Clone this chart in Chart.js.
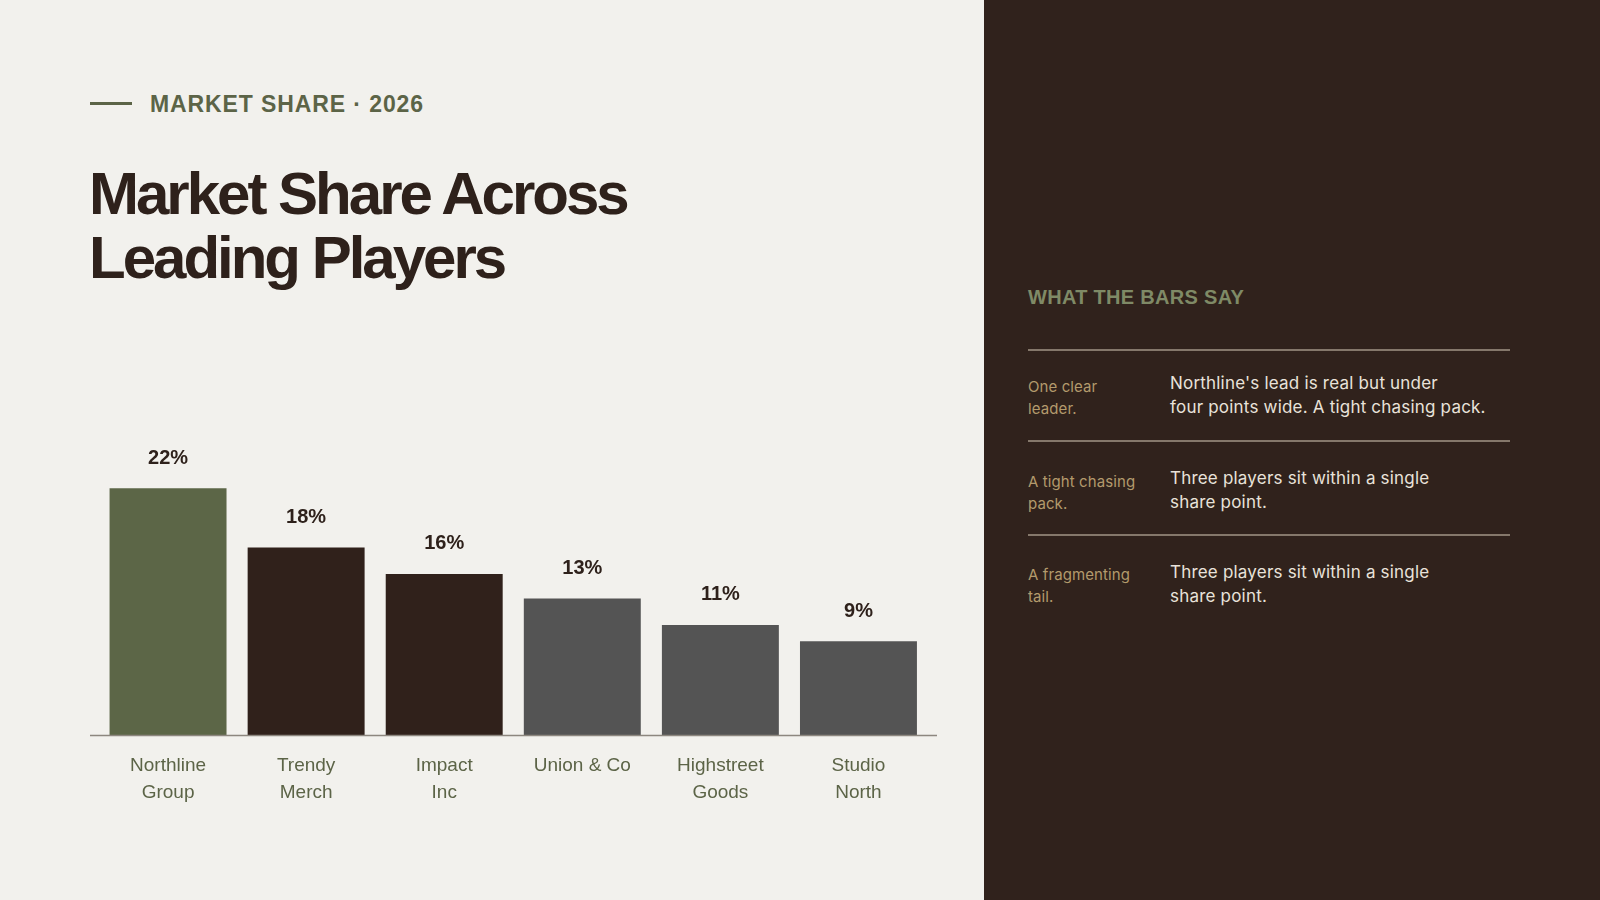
<!DOCTYPE html>
<html>
<head>
<meta charset="utf-8">
<title>Market Share Across Leading Players</title>
<script src="https://cdn.jsdelivr.net/npm/chart.js@4.4.1/dist/chart.umd.min.js"></script>
<style>
    html, body {
        margin: 0;
        padding: 0;
        width: 1600px;
        height: 900px;
        overflow: hidden;
        background: #f2f1ed;
        font-family: "Liberation Sans", Arial, sans-serif;
    }
    .eyebrow-rule {
        position: absolute;
        left: 90px;
        top: 102px;
        width: 42px;
        height: 3px;
        background: #5c6447;
    }
    .eyebrow {
        position: absolute;
        left: 150px;
        top: 93px;
        font-size: 23px;
        line-height: 23px;
        font-weight: bold;
        letter-spacing: 0.9px;
        color: #5c6447;
        white-space: nowrap;
    }
    h1 {
        position: absolute;
        left: 89px;
        top: 162px;
        margin: 0;
        font-size: 60px;
        line-height: 64px;
        font-weight: bold;
        letter-spacing: -3px;
        color: #2e211b;
    }
    #chartBox {
        position: absolute;
        left: 90px;
        top: 420px;
        width: 847px;
        height: 400px;
    }
    .panel {
        position: absolute;
        left: 984px;
        top: 0;
        width: 616px;
        height: 900px;
        background: #30221c;
    }
    .panel-head {
        position: absolute;
        left: 1028px;
        top: 287px;
        font-size: 20px;
        line-height: 20px;
        font-weight: bold;
        letter-spacing: 0.3px;
        color: #7f8a66;
        white-space: nowrap;
    }
    .rule {
        position: absolute;
        left: 1028px;
        width: 482px;
        height: 1.5px;
        background: #85786b;
    }
    .note-key {
        position: absolute;
        left: 1028px;
        width: 135px;
        font-family: Inter, "Noto Sans", sans-serif;
        font-size: 15px;
        line-height: 21.5px;
        letter-spacing: 0.1px;
        color: #b39a6c;
    }
    .note-text {
        position: absolute;
        left: 1170px;
        width: 340px;
        font-family: Inter, "Noto Sans", sans-serif;
        font-size: 17px;
        line-height: 24px;
        letter-spacing: 0.2px;
        color: #e9e2da;
    }
</style>
</head>
<body>

<div class="eyebrow-rule"></div>
<div class="eyebrow">MARKET SHARE · 2026</div>
<h1>Market Share Across<br>Leading Players</h1>

<div id="chartBox"><canvas id="shareChart"></canvas></div>

<div class="panel"></div>
<div class="panel-head">WHAT THE BARS SAY</div>

<div class="rule" style="top:349px"></div>
<div class="note-key" style="top:376px">One clear<br>leader.</div>
<div class="note-text" style="top:371px">Northline's lead is real but under<br>four points wide. A tight chasing pack.</div>

<div class="rule" style="top:440px"></div>
<div class="note-key" style="top:471px">A tight chasing<br>pack.</div>
<div class="note-text" style="top:466px">Three players sit within a single<br>share point.</div>

<div class="rule" style="top:534px"></div>
<div class="note-key" style="top:564px">A fragmenting<br>tail.</div>
<div class="note-text" style="top:560px">Three players sit within a single<br>share point.</div>

<script>
// data
const companies = [
    ['Northline', 'Group'],
    ['Trendy', 'Merch'],
    ['Impact', 'Inc'],
    'Union & Co',
    ['Highstreet', 'Goods'],
    ['Studio', 'North']
];
// bar heights as drawn
const shares = [24.2, 18.4, 15.8, 13.4, 10.8, 9.2];
// printed value labels
const shareLabels = ['22%', '18%', '16%', '13%', '11%', '9%'];
const barColors = ['#5c6647', '#30211b', '#30211b', '#545454', '#545454', '#545454'];

const SHARE_MAX = 26;

// value text above each bar
const valueLabels = {
    id: 'valueLabels',
    afterDatasetsDraw(chart) {
        const ctx = chart.ctx;
        const bars = chart.getDatasetMeta(0).data;
        ctx.save();
        ctx.font = 'bold 20px "Liberation Sans", Arial, sans-serif';
        ctx.fillStyle = '#2e211b';
        ctx.textAlign = 'center';
        ctx.textBaseline = 'middle';
        bars.forEach(function(bar, i) {
            ctx.fillText(shareLabels[i], bar.x, bar.y - 30);
        });
        ctx.restore();
    }
};

// baseline runs a bit wider than the bars
const baseLine = {
    id: 'baseLine',
    afterDatasetsDraw(chart) {
        const ctx = chart.ctx;
        const y = chart.chartArea.bottom + 0.5;
        ctx.save();
        ctx.strokeStyle = '#8d877f';
        ctx.lineWidth = 1.5;
        ctx.beginPath();
        ctx.moveTo(0, y);
        ctx.lineTo(chart.width, y);
        ctx.stroke();
        ctx.restore();
    }
};

const renderBars = function() {
    const canvas = document.getElementById('shareChart').getContext('2d');

    const barData = {
        labels: companies,
        datasets: [
            {
                data: shares,
                backgroundColor: barColors,
                borderWidth: 0,
                barPercentage: 0.847,
                categoryPercentage: 1.0
            }
        ]
    };

    const barOptions = {
        maintainAspectRatio: false,
        responsive: true,
        animation: false,
        layout: {
            padding: { left: 9, right: 9.5, top: 50, bottom: 0 }
        },
        plugins: {
            legend: { display: false },
            tooltip: { enabled: false }
        },
        scales: {
            x: {
                grid: { display: false, drawTicks: false },
                border: { display: false },
                ticks: {
                    color: '#5c6447',
                    padding: 17,
                    maxRotation: 0,
                    autoSkip: false,
                    font: { family: '"Liberation Sans", Arial, sans-serif', size: 19, lineHeight: 1.42 }
                },
                afterFit: function(scale) { scale.height = 85; }
            },
            y: {
                display: false,
                min: 0,
                max: SHARE_MAX
            }
        }
    };

    return new Chart(canvas, {
        type: 'bar',
        data: barData,
        options: barOptions,
        plugins: [valueLabels, baseLine]
    });
};

renderBars();
</script>
</body>
</html>
